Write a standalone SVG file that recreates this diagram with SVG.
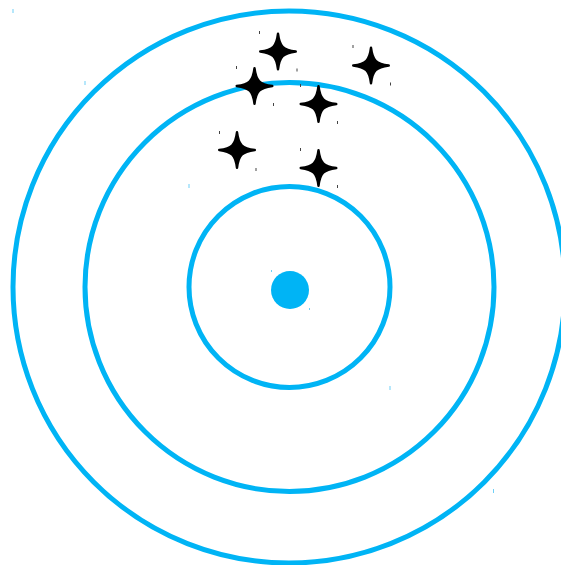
<svg xmlns="http://www.w3.org/2000/svg" xmlns:xlink="http://www.w3.org/1999/xlink" width="561" height="565" viewBox="0 0 561 565">
<defs>
<style>
.ring{fill:none;stroke:#00B4F5;stroke-width:5}
.dot{fill:#00B4F5}
.bt{fill:#6fd0f7}
.kt{fill:#444}
.star{fill:#000;stroke:#000;stroke-width:2.4;stroke-linejoin:round}
</style>
<path id="star" d="M0,-17.8 C1.6,-5 5,-1.6 17.8,0 C5,1.6 1.6,5 0,17.8 C-1.6,5 -5,1.6 -17.8,0 C-5,-1.6 -1.6,-5 0,-17.8Z"/>
</defs>
<rect width="561" height="565" fill="#fff"/>
<g id="outer-ring"><circle class="ring" cx="289" cy="287" r="276"/></g>
<g id="middle-ring"><circle class="ring" cx="289.5" cy="287" r="204.5"/></g>
<g id="inner-ring"><circle class="ring" cx="289.5" cy="287" r="100.5"/></g>
<g id="center-dot"><circle class="dot" cx="290" cy="290" r="19"/></g>
<g id="stars" class="star">
<use xlink:href="#star" x="278" y="51.5"/>
<use xlink:href="#star" x="371" y="65.5"/>
<use xlink:href="#star" x="254.5" y="86"/>
<use xlink:href="#star" x="318.5" y="104"/>
<use xlink:href="#star" x="237" y="150"/>
<use xlink:href="#star" x="318.5" y="168"/>
</g>
<g id="ticks">
<rect class="bt" x="12.5" y="9" width="1" height="4"/>
<rect class="bt" x="84.5" y="81" width="1" height="4"/>
<rect class="bt" x="188.5" y="184" width="1" height="4"/>
<rect class="bt" x="389.5" y="386" width="1" height="4"/>
<rect class="bt" x="493" y="489" width="1" height="4"/>
<rect class="bt" x="271" y="270" width="1" height="2"/>
<rect class="bt" x="309" y="308" width="1" height="2"/>
<rect class="kt" x="259" y="31" width="1" height="3"/>
<rect class="kt" x="296.5" y="68.5" width="1" height="3"/>
<rect class="kt" x="352.5" y="45" width="1" height="3"/>
<rect class="kt" x="390" y="82.5" width="1" height="3"/>
<rect class="kt" x="236" y="66" width="1" height="3"/>
<rect class="kt" x="273" y="103" width="1" height="3"/>
<rect class="kt" x="300" y="84" width="1" height="3"/>
<rect class="kt" x="337" y="121" width="1" height="3"/>
<rect class="kt" x="219" y="131" width="1" height="3"/>
<rect class="kt" x="255.5" y="168" width="1" height="3"/>
<rect class="kt" x="300" y="148" width="1" height="3"/>
<rect class="kt" x="337" y="185" width="1" height="3"/>
</g>
</svg>
